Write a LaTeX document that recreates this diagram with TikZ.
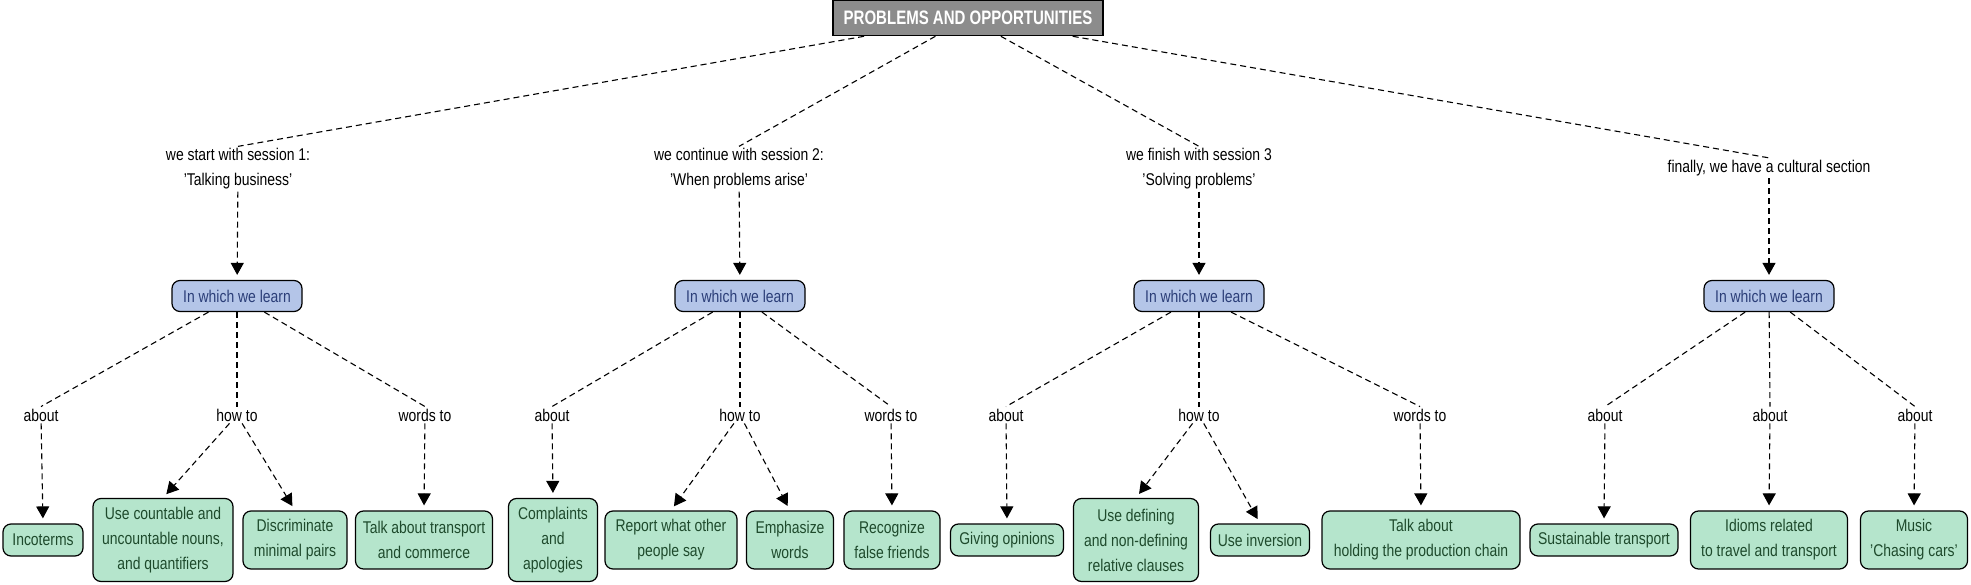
\documentclass[tikz,border=0pt]{standalone}
\usepackage{fontspec}
\setmainfont[FakeStretch=0.82]{Liberation Sans}
\newfontfamily\titlefont[FakeStretch=0.77]{Liberation Sans}
\usetikzlibrary{shapes,arrows.meta}
\definecolor{titlegray}{HTML}{8C8C8C}
\definecolor{learnblue}{HTML}{B4C5E8}
\definecolor{learntext}{HTML}{2B3E78}
\definecolor{leafgreen}{HTML}{B5E5CC}
\definecolor{leaftext}{HTML}{1E4A2C}
\tikzstyle{title} = [draw=black, line width=1.6pt, fill=titlegray, rectangle,
    text=white, font=\titlefont\fontsize{19.5}{25}\selectfont\bfseries,
    minimum width=270, minimum height=35, inner sep=2pt]
\tikzstyle{plain} = [align=center, font=\fontsize{17}{25}\selectfont, inner sep=2pt]
\tikzstyle{learn} = [draw=black, line width=1.2pt, fill=learnblue, rectangle,
    rounded corners=8pt, text=learntext, font=\fontsize{17}{25}\selectfont,
    minimum width=130, minimum height=31, inner sep=2pt]
\tikzstyle{leaf} = [draw=black, line width=1.2pt, fill=leafgreen, rectangle,
    rounded corners=8pt, text=leaftext, align=center,
    font=\fontsize{17}{25}\selectfont, inner sep=2pt]
\tikzstyle{link} = [line width=1.1pt, dash pattern=on 6pt off 4pt]
\tikzstyle{arrow} = [link, -{Triangle[length=12pt,width=13pt]}, shorten >=5pt]

\begin{document}
\begin{tikzpicture}[x=1pt,y=-1pt]
\useasboundingbox (0,0) rectangle (1971,585);

\node[title, name=top] at (968,18) {PROBLEMS AND OPPORTUNITIES};

\node[plain, name=s1] at (238,169) {we start with session 1:\\'Talking business'};
\node[plain, name=s2] at (739,169) {we continue with session 2:\\'When problems arise'};
\node[plain, name=s3] at (1199,169) {we finish with session 3\\'Solving problems'};
\node[plain, name=s4] at (1769,168) {finally, we have a cultural section};

\node[learn, name=learn1] at (237,296) {In which we learn};
\node[learn, name=learn2] at (740,296) {In which we learn};
\node[learn, name=learn3] at (1199,296) {In which we learn};
\node[learn, name=learn4] at (1769,296) {In which we learn};

\node[plain, name=about1] at (41,415) {about};
\node[plain, name=howto1] at (237,415) {how to};
\node[plain, name=words1] at (425,415) {words to};
\node[plain, name=about2] at (552,415) {about};
\node[plain, name=howto2] at (740,415) {how to};
\node[plain, name=words2] at (891,415) {words to};
\node[plain, name=about3] at (1006,415) {about};
\node[plain, name=howto3] at (1199,415) {how to};
\node[plain, name=words3] at (1420,415) {words to};
\node[plain, name=about4] at (1605,415) {about};
\node[plain, name=about5] at (1770,415) {about};
\node[plain, name=about6] at (1915,415) {about};

\node[leaf, name=incoterms, minimum width=80, minimum height=32] at (43,540) {Incoterms};
\node[leaf, name=countable, minimum width=140, minimum height=83] at (163,540) {Use countable and\\uncountable nouns,\\and quantifiers};
\node[leaf, name=pairs, minimum width=104, minimum height=58] at (295,540) {Discriminate\\minimal pairs};
\node[leaf, name=transport, minimum width=137, minimum height=58] at (424,540) {Talk about transport\\and commerce};
\node[leaf, name=complaints, minimum width=89, minimum height=83] at (553,540) {Complaints\\and\\apologies};
\node[leaf, name=report, minimum width=132, minimum height=58] at (671,540) {Report what other\\people say};
\node[leaf, name=emphasize, minimum width=87, minimum height=58] at (790,540) {Emphasize\\words};
\node[leaf, name=friends, minimum width=96, minimum height=58] at (892,540) {Recognize\\false friends};
\node[leaf, name=opinions, minimum width=113, minimum height=32] at (1007,540) {Giving opinions};
\node[leaf, name=clauses, minimum width=125, minimum height=83] at (1136,540) {Use defining\\and non-defining\\relative clauses};
\node[leaf, name=inversion, minimum width=99, minimum height=32] at (1260,540) {Use inversion};
\node[leaf, name=chain, minimum width=198, minimum height=58] at (1421,540) {Talk about\\holding the production chain};
\node[leaf, name=sustain, minimum width=148, minimum height=32] at (1604,540) {Sustainable transport};
\node[leaf, name=idioms, minimum width=157, minimum height=58] at (1769,540) {Idioms related\\to travel and transport};
\node[leaf, name=music, minimum width=107, minimum height=58] at (1914,540) {Music\\'Chasing cars'};

\draw[link] (top) -- (s1.north);
\draw[link] (top) -- (s2.north);
\draw[link] (top) -- (s3.north);
\draw[link] (top) -- (s4.north);

\draw[arrow] (s1) -- (learn1);
\draw[arrow] (s2) -- (learn2);
\draw[arrow] (s3) -- (learn3);
\draw[arrow] (s4) -- (learn4);

\draw[link] (learn1) -- (about1.north);
\draw[link] (learn1) -- (howto1.north);
\draw[link] (learn1) -- (words1.north);
\draw[link] (learn2) -- (about2.north);
\draw[link] (learn2) -- (howto2.north);
\draw[link] (learn2) -- (words2.north);
\draw[link] (learn3) -- (about3.north);
\draw[link] (learn3) -- (howto3.north);
\draw[link] (learn3) -- (words3.north);
\draw[link] (learn4) -- (about4.north);
\draw[link] (learn4) -- (about5.north);
\draw[link] (learn4) -- (about6.north);

\draw[arrow] (about1) -- (incoterms.north);
\draw[arrow] (howto1) -- (countable.north);
\draw[arrow] (howto1) -- (pairs.north);
\draw[arrow] (words1) -- (transport.north);
\draw[arrow] (about2) -- (complaints.north);
\draw[arrow] (howto2) -- (report.north);
\draw[arrow] (howto2) -- (emphasize.north);
\draw[arrow] (words2) -- (friends.north);
\draw[arrow] (about3) -- (opinions.north);
\draw[arrow] (howto3) -- (clauses.north);
\draw[arrow] (howto3) -- (inversion.north);
\draw[arrow] (words3) -- (chain.north);
\draw[arrow] (about4) -- (sustain.north);
\draw[arrow] (about5) -- (idioms.north);
\draw[arrow] (about6) -- (music.north);

\end{tikzpicture}
\end{document}
